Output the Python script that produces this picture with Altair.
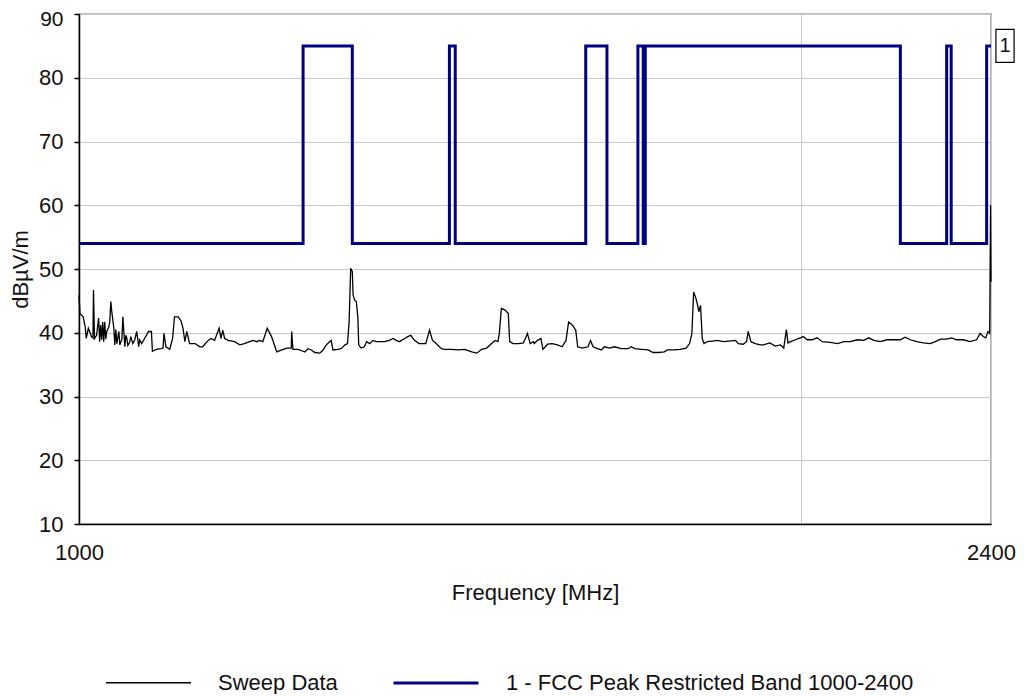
import altair as alt
import pandas as pd

# ---------------- data ----------------
sweep_freq = [
    1000, 1001, 1004, 1006, 1007, 1009, 1011, 1012, 1013.5, 1014, 1015, 1017, 1019, 1020,
    1021, 1022, 1023, 1024, 1025, 1026, 1027, 1029, 1030, 1031, 1032, 1034, 1035, 1036,
    1037, 1039, 1040, 1042, 1043, 1045, 1046, 1047, 1048, 1050, 1051, 1053, 1055, 1057,
    1059, 1060, 1062, 1065, 1069, 1072, 1073, 1077, 1082, 1084, 1085, 1087, 1091, 1094,
    1096, 1100, 1103, 1105, 1107, 1109, 1112, 1118, 1123, 1126, 1132, 1135, 1139, 1144,
    1146, 1148, 1150, 1154, 1161, 1167, 1172, 1178, 1182, 1186, 1189, 1193, 1198, 1203,
    1207, 1209, 1215, 1221, 1226, 1226.5, 1228, 1234, 1240, 1242, 1246, 1250, 1254, 1260,
    1264, 1268, 1272, 1274, 1276, 1282, 1286, 1291, 1294, 1296, 1298, 1300, 1301, 1303,
    1305, 1307, 1308, 1311, 1315, 1318, 1322, 1326, 1330, 1341, 1347, 1352, 1356, 1360,
    1367, 1371, 1375, 1380, 1386, 1395, 1400, 1404, 1409, 1416, 1420, 1430, 1439, 1448,
    1458, 1465, 1472, 1479, 1486, 1491, 1495, 1497, 1500, 1505, 1510, 1512, 1517, 1525,
    1532, 1538, 1542, 1547, 1548, 1553, 1558, 1561, 1568, 1575, 1583, 1590, 1596, 1600,
    1606, 1611, 1614, 1621, 1630, 1634, 1638, 1645, 1651, 1656, 1664, 1672, 1683, 1694,
    1699, 1705, 1716, 1727, 1735, 1744, 1754, 1759, 1771, 1781, 1791, 1797, 1801, 1804,
    1808, 1811, 1813, 1816, 1819, 1822, 1828, 1837, 1845, 1857, 1866, 1878, 1883, 1892,
    1898, 1901, 1906, 1914, 1923, 1929, 1941, 1951, 1961, 1967, 1972, 1975, 1980, 1989,
    1999, 2004, 2012, 2021, 2031, 2041, 2057, 2071, 2084, 2097, 2111, 2124, 2134, 2145,
    2158, 2172, 2186, 2200, 2210, 2221, 2235, 2249, 2264, 2275, 2286, 2300, 2311, 2322,
    2337, 2352, 2367, 2375, 2382, 2388, 2393, 2397, 2399, 2400,
]
sweep_level = [
    45.9, 43.0, 42.5, 40.9, 39.1, 40.7, 39.9, 39.4, 39.2, 46.7, 39.1, 39.6, 42.3, 38.6,
    41.2, 38.9, 41.7, 38.6, 41.7, 39.0, 40.2, 40.9, 41.7, 44.9, 43.3, 40.7, 38.1, 40.5,
    38.3, 40.2, 38.1, 39.0, 42.5, 37.8, 39.6, 39.1, 38.0, 38.6, 39.4, 38.3, 38.9, 40.2,
    37.8, 38.9, 38.3, 39.1, 40.2, 40.2, 37.1, 37.4, 37.5, 37.6, 39.9, 37.8, 37.4, 39.1,
    42.5, 42.5, 41.8, 40.7, 38.6, 40.2, 38.3, 38.3, 37.8, 37.8, 38.8, 39.1, 38.8, 40.7,
    39.1, 40.4, 39.1, 38.8, 38.6, 38.1, 38.3, 38.6, 38.8, 38.6, 38.8, 38.6, 40.7, 39.4,
    37.8, 37.0, 37.3, 37.6, 37.6, 40.2, 37.4, 37.4, 37.1, 37.0, 37.5, 37.3, 36.9, 36.8,
    37.3, 38.1, 38.6, 38.8, 37.3, 37.4, 37.5, 38.1, 38.3, 41.7, 50.1, 49.6, 45.9, 45.1,
    44.9, 42.3, 38.1, 37.6, 37.8, 38.6, 38.3, 38.8, 38.6, 38.6, 38.8, 39.1, 38.8, 38.6,
    39.1, 39.4, 39.6, 38.8, 38.3, 38.3, 40.4, 38.8, 38.3, 37.5, 37.4, 37.4, 37.3, 37.4,
    37.0, 36.8, 37.4, 37.6, 38.3, 38.8, 38.6, 39.9, 43.8, 43.6, 43.0, 38.6, 38.3, 38.3,
    38.4, 39.9, 38.3, 38.6, 38.3, 38.8, 39.1, 37.4, 38.2, 38.3, 38.1, 37.8, 38.8, 41.7,
    41.2, 40.4, 37.8, 37.6, 37.8, 38.8, 37.8, 37.5, 37.3, 37.8, 37.6, 37.8, 37.5, 37.5,
    37.8, 37.5, 37.4, 37.3, 36.9, 36.9, 37.0, 37.3, 37.3, 37.4, 37.6, 38.3, 39.9, 46.4,
    45.4, 44.3, 43.3, 44.3, 39.1, 38.3, 38.6, 38.7, 38.8, 38.6, 38.7, 38.8, 38.3, 38.2,
    38.6, 40.2, 38.6, 38.3, 38.1, 38.1, 38.4, 37.9, 38.1, 37.6, 40.5, 38.4, 38.6, 38.9,
    39.2, 39.4, 38.9, 38.9, 39.2, 38.6, 38.5, 38.3, 38.6, 38.6, 38.9, 38.8, 39.2, 38.8,
    38.6, 38.9, 38.9, 38.9, 39.3, 38.9, 38.6, 38.4, 38.3, 38.6, 39.0, 39.0, 39.2, 38.9,
    38.9, 38.6, 38.9, 39.9, 39.4, 39.2, 40.2, 39.9, 60.0, 48.0,
]

limit_freq = [
    1000, 1240, 1240, 1300, 1300, 1427, 1427, 1435, 1435, 1626.5, 1626.5, 1660, 1660, 1710,
    1710, 1718.8, 1718.8, 1722.2, 1722.2, 2200, 2200, 2300, 2300, 2310, 2310, 2390, 2390, 2400,
]
limit_level = [
    54, 54, 85, 85, 54, 54, 85, 85, 54, 54, 85, 85, 54, 54,
    85, 85, 54, 54, 85, 85, 54, 54, 85, 85, 54, 54, 85, 85,
]

series_names = ["Sweep Data", "1 - FCC Peak Restricted Band 1000-2400"]
series_colors = ["#000000", "#000080"]
series_widths = [1.3, 3]

x_ticks = [1000, 2000, 2400]
y_ticks = [10, 15, 20, 25, 30, 35, 40, 45, 50, 55, 60, 65, 70, 75, 80, 85, 90]

marker_freq = [2400]
marker_level = [85]
marker_text = ["1"]

# ---------------- tables ----------------
sweep_df = pd.DataFrame({"freq": sweep_freq, "level": sweep_level,
                         "series": series_names[0], "idx": range(len(sweep_freq))})
limit_df = pd.DataFrame({"freq": limit_freq, "level": limit_level,
                         "series": series_names[1], "idx": range(len(limit_freq))})
marker_df = pd.DataFrame({"freq": marker_freq, "level": marker_level, "label": marker_text})

FONT = "Liberation Sans"

x_scale = alt.Scale(type="log", domain=[1000, 2400], nice=False)
y_scale = alt.Scale(domain=[10, 90], nice=False)

x_axis = alt.Axis(
    values=x_ticks,
    labelExpr="datum.value == 2000 ? '' : datum.label",
    format="d",
    ticks=False,
    grid=True,
    gridColor="#c8c8c8",
    domainColor="#000000",
    domainWidth=1.5,
    labelFlush=False,
    labelFont=FONT, labelFontSize=22, labelColor="#111111",
    labelPadding=18,
    titleFont=FONT, titleFontSize=22, titleFontWeight="normal", titleColor="#111111",
    titlePadding=19,
)
y_axis = alt.Axis(
    values=y_ticks,
    labelExpr="datum.value % 10 === 0 ? datum.label : ''",
    labelOffset={"condition": {"test": "datum.value === 90", "value": 5}, "value": 0},
    labelFontSize={"condition": {"test": "datum.value === 90", "value": 21}, "value": 22},
    grid=True,
    gridColor="#c8c8c8",
    gridOpacity={"condition": {"test": "datum.value % 10 === 0", "value": 1}, "value": 0},
    tickColor="#000000", tickSize=5, tickWidth=1.5,
    domainColor="#000000", domainWidth=1.5,
    labelFont=FONT, labelColor="#111111",
    labelPadding=11,
    titleFont=FONT, titleFontSize=22, titleFontWeight="normal", titleColor="#111111",
    titlePadding=6,
)

legend = alt.Legend(
    title=None, orient="none", direction="horizontal",
    legendX=26, legendY=625,
    symbolType="stroke", symbolSize=7225,
    labelFont=FONT, labelFontSize=22, labelColor="#111111", labelLimit=600,
    labelOffset=26, columnPadding=49,
)

color_enc = alt.Color("series:N", scale=alt.Scale(domain=series_names, range=series_colors),
                      legend=legend)
width_enc = alt.StrokeWidth("series:N", scale=alt.Scale(domain=series_names, range=series_widths),
                            legend=legend)

x_enc = alt.X("freq:Q", scale=x_scale, axis=x_axis, title="Frequency [MHz]")
y_enc = alt.Y("level:Q", scale=y_scale, axis=y_axis, title="dBµV/m")

limit_line = alt.Chart(limit_df).mark_line().encode(
    x=x_enc, y=y_enc, color=color_enc, strokeWidth=width_enc, order="idx:Q"
)
sweep_line = alt.Chart(sweep_df).mark_line().encode(
    x=x_enc, y=y_enc, color=color_enc, strokeWidth=width_enc, order="idx:Q"
)

box_shape = "M-0.55,-1 L0.55,-1 L0.55,1 L-0.55,1 Z"
marker_box = alt.Chart(marker_df).mark_point(
    shape=box_shape, size=1089, filled=True, fill="#ffffff", stroke="#000000",
    strokeWidth=1.2, opacity=1, xOffset=14,
).encode(x=alt.X("freq:Q", scale=x_scale), y=alt.Y("level:Q", scale=y_scale))
marker_label = alt.Chart(marker_df).mark_text(
    font=FONT, fontSize=20, color="#111111", dx=14, align="center", baseline="middle",
).encode(x=alt.X("freq:Q", scale=x_scale), y=alt.Y("level:Q", scale=y_scale), text="label:N")

chart = alt.layer(limit_line, sweep_line, marker_box, marker_label).properties(
    width=912, height=510,
    autosize=alt.AutoSizeParams(type="none"),
    padding={"left": 71, "top": 6, "right": 25, "bottom": 170},
    background="#ffffff",
).configure_view(
    stroke="#000000", strokeWidth=1.2
)

chart.save("out.html", embed_options={"renderer": "svg", "actions": False})
